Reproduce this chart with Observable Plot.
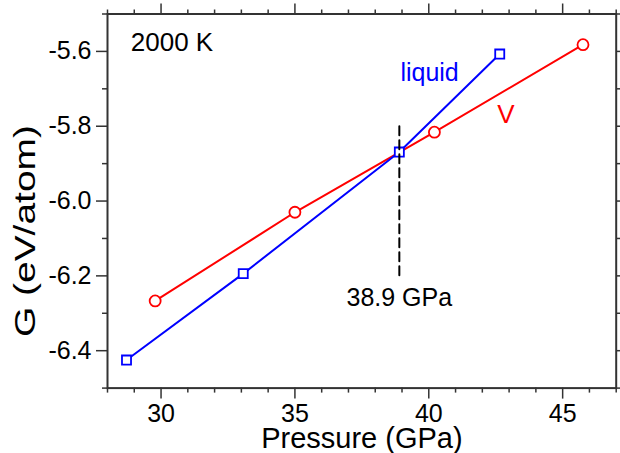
<!DOCTYPE html>
<html>
<head>
<meta charset="utf-8">
<script src="https://cdn.jsdelivr.net/npm/d3@7"></script>
<script src="https://cdn.jsdelivr.net/npm/@observablehq/plot@0.6"></script>
<style>
  html, body { margin: 0; padding: 0; background: #fff; }
  svg { display: block; }
</style>
</head>
<body>
<div id="chart"></div>
<script>
// Data
const liquidP = [28.71, 33.07, 38.9, 42.65];
const liquidG = [-6.425, -6.194, -5.869, -5.607];
const vP = [29.78, 35.0, 40.21, 45.76];
const vG = [-6.267, -6.03, -5.816, -5.582];

const xMajor = [30, 35, 40, 45];
const xMinor = [28, 29, 31, 32, 33, 34, 36, 37, 38, 39, 41, 42, 43, 44, 46, 47];
const yMajor = [-6.4, -6.2, -6.0, -5.8, -5.6];
const yMinor = [-6.5, -6.3, -6.1, -5.9, -5.7, -5.5];

const transitionP = 38.9;
const transitionG = [-5.8, -6.2];

const liquid = liquidP.map((p, i) => ({P: p, G: liquidG[i]}));
const vphase = vP.map((p, i) => ({P: p, G: vG[i]}));
const dashed = transitionG.map(g => ({P: transitionP, G: g}));

const font = "'Liberation Sans', Arial, Helvetica, sans-serif";
const axisColor = "#333";
const blank = () => "";
const yTitle = "G (eV/atom)";

const chart = Plot.plot({
  width: 620,
  height: 453,
  marginLeft: 107,
  marginRight: 4.3,
  marginTop: 13.5,
  marginBottom: 65.4,
  style: {fontFamily: font, background: "#fff", color: "#000", overflow: "visible"},
  x: {domain: [28, 47], label: null},
  y: {domain: [-6.5, -5.5], label: null},
  marks: [
    // axes
    Plot.axisX(xMajor, {anchor: "bottom", tickSize: 11, tickPadding: 5, stroke: axisColor, strokeWidth: 1.5, fontSize: 25, fill: "#000", tickFormat: d => String(d), label: null}),
    Plot.axisX(xMinor, {anchor: "bottom", tickSize: 5, stroke: axisColor, strokeWidth: 1.5, tickFormat: blank, label: null}),
    Plot.axisX(xMajor, {anchor: "top", tickSize: 11, stroke: axisColor, strokeWidth: 1.5, tickFormat: blank, label: null}),
    Plot.axisX(xMinor, {anchor: "top", tickSize: 5, stroke: axisColor, strokeWidth: 1.5, tickFormat: blank, label: null}),
    Plot.axisY(yMajor, {anchor: "left", tickSize: 11, tickPadding: 5, stroke: axisColor, strokeWidth: 1.5, fontSize: 25, fill: "#000", tickFormat: d => d.toFixed(1), label: null}),
    Plot.axisY(yMinor, {anchor: "left", tickSize: 5, stroke: axisColor, strokeWidth: 1.5, tickFormat: blank, label: null}),
    Plot.axisY(yMajor, {anchor: "right", tickSize: 11, stroke: axisColor, strokeWidth: 1.5, tickFormat: blank, label: null}),
    Plot.axisY(yMinor, {anchor: "right", tickSize: 5, stroke: axisColor, strokeWidth: 1.5, tickFormat: blank, label: null}),
    Plot.frame({stroke: axisColor, strokeWidth: 2}),
    // axis titles
    Plot.text(["Pressure (GPa)"], {frameAnchor: "bottom", dy: 59.6, lineAnchor: "bottom", fontSize: 29, fill: "#000"}),
    Plot.text([yTitle], {frameAnchor: "left", dx: -82, dy: 136, rotate: -90, textAnchor: "start", fontSize: 30, fill: "#000"}),
    // series
    Plot.line(vphase, {x: "P", y: "G", stroke: "#ff0000", strokeWidth: 2}),
    Plot.dot(vphase, {x: "P", y: "G", r: 5.5, stroke: "#ff0000", strokeWidth: 1.8, fill: "#fff"}),
    Plot.line(liquid, {x: "P", y: "G", stroke: "#0000ff", strokeWidth: 2}),
    Plot.dot(liquid, {x: "P", y: "G", symbol: "square", r: 5.1, stroke: "#0000ff", strokeWidth: 1.8, fill: "#fff"}),
    Plot.line(dashed, {x: "P", y: "G", stroke: "#000", strokeWidth: 2, strokeDasharray: "9,5"}),
    // annotations
    Plot.text(["2000 K"], {x: () => 28.87, y: () => -5.6, textAnchor: "start", lineAnchor: "bottom", fontSize: 26, fill: "#000"}),
    Plot.text(["liquid"], {x: () => 38.94, y: () => -5.678, textAnchor: "start", lineAnchor: "bottom", fontSize: 25, fill: "#0000ff"}),
    Plot.text(["V"], {x: () => 42.88, y: () => -5.791, textAnchor: "middle", lineAnchor: "bottom", fontSize: 26, fill: "#ff0000"}),
    Plot.text(["38.9 GPa"], {x: () => transitionP, y: () => -6.28, textAnchor: "middle", lineAnchor: "bottom", fontSize: 25, fill: "#000"})
  ]
});

// The reference's vertical title runs longer along its baseline
d3.select(chart).selectAll("text")
  .filter(function () { return this.textContent === yTitle; })
  .attr("textLength", 212)
  .attr("lengthAdjust", "spacingAndGlyphs");

document.getElementById("chart").appendChild(chart);
</script>
</body>
</html>
